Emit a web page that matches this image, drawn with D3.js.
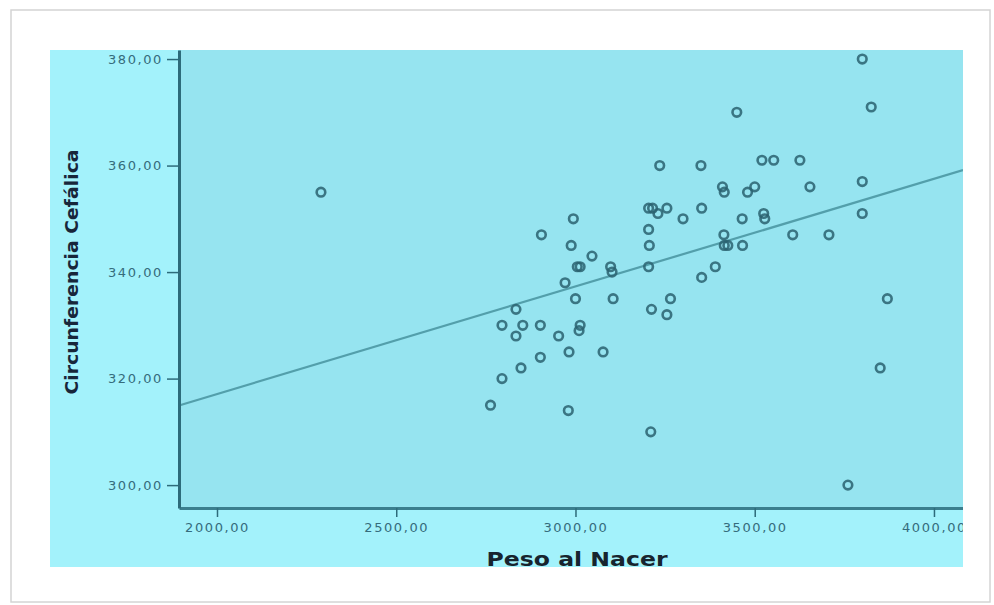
<!DOCTYPE html>
<html>
<head>
<meta charset="utf-8">
<script src="https://cdn.jsdelivr.net/npm/d3@7"></script>
<style>
    body { margin: 0; background: #ffffff; }
    .tick text { font-family: "DejaVu Sans", Verdana, sans-serif; font-size: 13px; letter-spacing: 1.6px; fill: #356c7c; }
</style>
</head>
<body>
<div id="chart"></div>
<script>
// Peso al Nacer (g) vs Circunferencia Cefálica (mm)
var peso = [2290, 2763, 2795, 2795, 2834, 2834, 2848, 2853, 2902, 2902,
    2905, 2953, 2971, 2980, 2982, 2988, 2994, 3000, 3005, 3013,
    3013, 3010, 3046, 3077, 3098, 3102, 3105, 3204, 3215, 3230,
    3255, 3204, 3206, 3204, 3212, 3210, 3235, 3255, 3265, 3300,
    3350, 3352, 3352, 3390, 3410, 3415, 3414, 3415, 3425, 3450,
    3465, 3466, 3480, 3500, 3525, 3528, 3520, 3553, 3606, 3626,
    3654, 3707, 3760, 3800, 3800, 3800, 3825, 3850, 3870];
var circunferencia = [355, 315, 320, 330, 333, 328, 322, 330, 330, 324,
    347, 328, 338, 314, 325, 345, 350, 335, 341, 341,
    330, 329, 343, 325, 341, 340, 335, 352, 352, 351,
    352, 348, 345, 341, 333, 310, 360, 332, 335, 350,
    360, 352, 339, 341, 356, 355, 347, 345, 345, 370,
    350, 345, 355, 356, 351, 350, 361, 361, 347, 361,
    356, 347, 300, 380, 357, 351, 371, 322, 335];

var xTicks = [2000, 2500, 3000, 3500, 4000];
var yTicks = [300, 320, 340, 360, 380];

// fit line
var fitIntercept = 276.7;
var fitSlope = 0.0202;

var w = 994, h = 605;
var outer = {left: 50, top: 50, right: 963, bottom: 567};
var plot = {left: 179, top: 50, right: 963, bottom: 508};

var locale = d3.formatLocale({decimal: ",", thousands: ".", grouping: [3], currency: ["", ""]});
var fmt = locale.format(".2f");

var x = d3.scaleLinear().domain([1894, 4081]).range([plot.left, plot.right]);
var y = d3.scaleLinear().domain([295.7, 381.7]).range([plot.bottom, plot.top]);

var svg = d3.select("#chart").append("svg")
    .attr("width", w)
    .attr("height", h);

svg.append("defs").append("clipPath")
    .attr("id", "outerClip")
    .append("rect")
    .attr("x", outer.left).attr("y", outer.top)
    .attr("width", outer.right - outer.left)
    .attr("height", outer.bottom - outer.top);

// frame
svg.append("rect")
    .attr("x", 11).attr("y", 10)
    .attr("width", 979).attr("height", 592)
    .attr("fill", "#ffffff")
    .attr("stroke", "#d4d4d4")
    .attr("stroke-width", 1.5);

var g = svg.append("g").attr("clip-path", "url(#outerClip)");

g.append("rect")
    .attr("x", outer.left).attr("y", outer.top)
    .attr("width", outer.right - outer.left)
    .attr("height", outer.bottom - outer.top)
    .attr("fill", "#a3f2fb");

g.append("rect")
    .attr("x", plot.left).attr("y", plot.top)
    .attr("width", plot.right - plot.left)
    .attr("height", plot.bottom - plot.top)
    .attr("fill", "#96e4f0");

// regression line
g.append("line")
    .attr("x1", x(1894)).attr("y1", y(fitIntercept + fitSlope * 1894))
    .attr("x2", x(4081)).attr("y2", y(fitIntercept + fitSlope * 4081))
    .attr("stroke", "#539fab")
    .attr("stroke-width", 2.2);

// points
g.append("g")
    .selectAll("circle")
    .data(peso)
    .enter().append("circle")
    .attr("cx", function (d) { return x(d); })
    .attr("cy", function (d, i) { return y(circunferencia[i]); })
    .attr("r", 4.3)
    .attr("fill", "none")
    .attr("stroke", "#2a6170")
    .attr("stroke-opacity", 0.85)
    .attr("stroke-width", 2.6);

// axes
var xAxis = g.append("g")
    .attr("transform", "translate(0," + plot.bottom + ")")
    .call(d3.axisBottom(x).tickValues(xTicks).tickFormat(fmt).tickSize(9).tickSizeOuter(0).tickPadding(6));

var yAxis = g.append("g")
    .attr("transform", "translate(" + plot.left + ",0)")
    .call(d3.axisLeft(y).tickValues(yTicks).tickFormat(fmt).tickSize(12).tickSizeOuter(0).tickPadding(4));

xAxis.select(".domain").attr("stroke", "#3a7e8e").attr("stroke-width", 3);
yAxis.select(".domain").attr("stroke", "#2d6b7a").attr("stroke-width", 3);
xAxis.selectAll(".tick line").attr("stroke", "#2d6b7a").attr("stroke-width", 1.5);
yAxis.selectAll(".tick line").attr("stroke", "#2d6b7a").attr("stroke-width", 1.5);

// titles
g.append("text")
    .attr("x", 577)
    .attr("y", 566)
    .attr("text-anchor", "middle")
    .attr("textLength", 181)
    .attr("lengthAdjust", "spacingAndGlyphs")
    .style("font-family", "'DejaVu Sans', Verdana, sans-serif")
    .style("font-weight", "bold")
    .style("font-size", "19px")
    .style("fill", "#17242e")
    .text("Peso al Nacer");

g.append("text")
    .attr("transform", "translate(78,272) rotate(-90)")
    .attr("text-anchor", "middle")
    .attr("textLength", 245)
    .attr("lengthAdjust", "spacingAndGlyphs")
    .style("font-family", "'Liberation Sans Narrow', 'DejaVu Sans Condensed', 'Liberation Sans', sans-serif")
    .style("font-weight", "bold")
    .style("font-size", "17px")
    .style("fill", "#18263a")
    .text("Circunferencia Cefálica");
</script>
</body>
</html>
